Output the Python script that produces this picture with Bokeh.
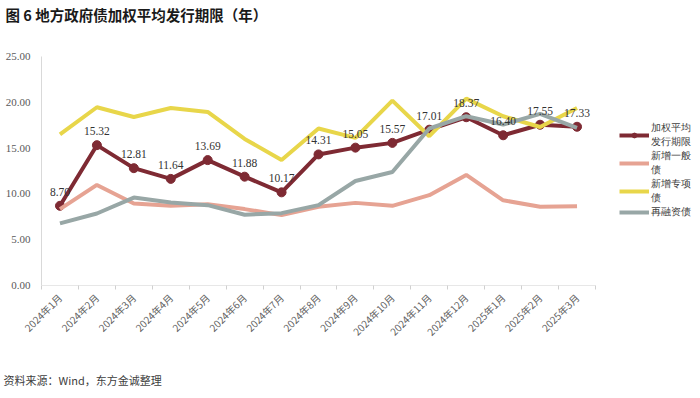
import numpy as np
from bokeh.plotting import figure
from bokeh.models import (Range1d, FixedTicker, Legend, LegendItem, Title,
                          ColumnDataSource, LabelSet)
from bokeh.embed import file_html
from bokeh.resources import INLINE
from bokeh.core.properties import value

months = ["2024年1月", "2024年2月", "2024年3月", "2024年4月", "2024年5月",
          "2024年6月", "2024年7月", "2024年8月", "2024年9月", "2024年10月",
          "2024年11月", "2024年12月", "2025年1月", "2025年2月", "2025年3月"]
weighted = [8.70, 15.32, 12.81, 11.64, 13.69, 11.88, 10.17, 14.31, 15.05,
            15.57, 17.01, 18.37, 16.40, 17.55, 17.33]
general = [8.34, 10.98, 8.95, 8.70, 8.88, 8.34, 7.68, 8.60, 9.02, 8.70,
           9.86, 12.07, 9.30, 8.60, 8.66]
special = [16.49, 19.46, 18.40, 19.38, 18.95, 16.00, 13.70, 17.14, 16.12,
           20.18, 16.30, 20.40, 18.48, 17.30, 19.38]
refinance = [6.78, 7.86, 9.60, 9.06, 8.77, 7.72, 7.90, 8.77, 11.41, 12.39,
             17.14, 18.48, 17.57, 18.73, 17.21]
y_ticks = [0, 5, 10, 15, 20, 25]

n = len(months)
x = np.arange(n) + 0.5

C_W = "#7E2A33"
C_G = "#E6A393"
C_S = "#E8D64A"
C_R = "#98A7A6"

W, H = 692, 390
LEFT, TOP, BOTTOM = 41, 56, 105
AXIS_W = 554                       # width of the category axis in pixels
frame_w = W - LEFT
x_end = n * frame_w / AXIS_W       # frame extends to the right for the legend

p = figure(width=W, height=H, output_backend="svg", toolbar_location=None,
           x_range=Range1d(0, x_end), y_range=Range1d(0, 25),
           min_border_left=LEFT, min_border_right=0, min_border_top=TOP,
           min_border_bottom=BOTTOM, background_fill_color="white",
           border_fill_color="white", outline_line_color=None)
p.grid.visible = False

p.xaxis.ticker = FixedTicker(ticks=list(x), minor_ticks=list(range(n + 1)))
p.xaxis.major_label_overrides = {float(xx): m for xx, m in zip(x, months)}
p.xaxis.major_tick_out = 0
p.xaxis.major_tick_in = 0
p.xaxis.minor_tick_out = 4
p.xaxis.minor_tick_in = 0
p.xaxis.minor_tick_line_color = "#d0d0d0"
p.xaxis.axis_line_color = None
p.xaxis.major_label_orientation = np.pi / 4
p.xaxis.major_label_text_font = "Noto Sans CJK SC"
p.xaxis.major_label_text_font_size = "10px"
p.xaxis.major_label_text_color = "#606060"
p.xaxis.major_label_standoff = 6

p.yaxis.ticker = FixedTicker(ticks=y_ticks)
p.yaxis.major_label_overrides = {t: f"{t:.2f}" for t in y_ticks}
p.yaxis.major_tick_out = 0
p.yaxis.major_tick_in = 0
p.yaxis.minor_tick_out = 0
p.yaxis.minor_tick_in = 0
p.yaxis.axis_line_color = "#d9d9d9"
p.yaxis.major_label_text_font = "Liberation Serif"
p.yaxis.major_label_text_font_size = "11px"
p.yaxis.major_label_text_color = "#595959"
p.yaxis.major_label_standoff = 11

# x axis baseline spanning the categories only
p.segment(x0=[0], y0=[0], x1=[n], y1=[0], line_color="#d0d0d0", line_width=1)

lw = 4
r_w = p.line(x, weighted, line_color=C_W, line_width=lw)
r_wm = p.scatter(x, weighted, size=9, fill_color=C_W, line_color=C_W)
r_g = p.line(x, general, line_color=C_G, line_width=lw)
r_s = p.line(x, special, line_color=C_S, line_width=lw)
r_r = p.line(x, refinance, line_color=C_R, line_width=lw)

src = ColumnDataSource(dict(x=x, y=weighted, t=[f"{v:.2f}" for v in weighted]))
p.add_layout(LabelSet(x="x", y="y", text="t", source=src, y_offset=10,
                      text_align="center", text_baseline="bottom",
                      text_font=value("Liberation Serif"), text_font_size="11.5px",
                      text_color="#333333"))

legend = Legend(items=[
    LegendItem(label="加权平均\n发行期限", renderers=[r_w, r_wm]),
    LegendItem(label="新增一般\n债", renderers=[r_g]),
    LegendItem(label="新增专项\n债", renderers=[r_s]),
    LegendItem(label="再融资债", renderers=[r_r]),
], location=(578, 66), glyph_width=30, glyph_height=12, label_standoff=2,
    label_height=12, spacing=-9, padding=2, margin=0, border_line_color=None,
    background_fill_alpha=0, label_text_font="Liberation Sans",
    label_text_font_size="10px", label_text_color="#404040",
    label_text_line_height=0.92)
p.add_layout(legend, "center")

# title: spacer next to the frame, then the title on the outside
p.add_layout(Title(text=" ", text_font_size="10px", standoff=17), "above")
p.add_layout(Title(text="图 6  地方政府债加权平均发行期限（年）", align="left",
                   vertical_align="top", offset=-36, standoff=0,
                   text_font="Noto Sans CJK SC", text_font_size="14.5px",
                   text_font_style="bold", text_color="#1a1a1a"), "above")
# source: spacer below the axis, then the source note
p.add_layout(Title(text=" ", text_font_size="10px", standoff=12), "below")
p.add_layout(Title(text="资料来源：Wind，东方金诚整理", align="left",
                   vertical_align="top", offset=-38, standoff=0,
                   text_font="Noto Sans CJK SC", text_font_size="11px",
                   text_font_style="normal", text_color="#404040"), "below")

open("out.html", "w").write(file_html(p, INLINE))
